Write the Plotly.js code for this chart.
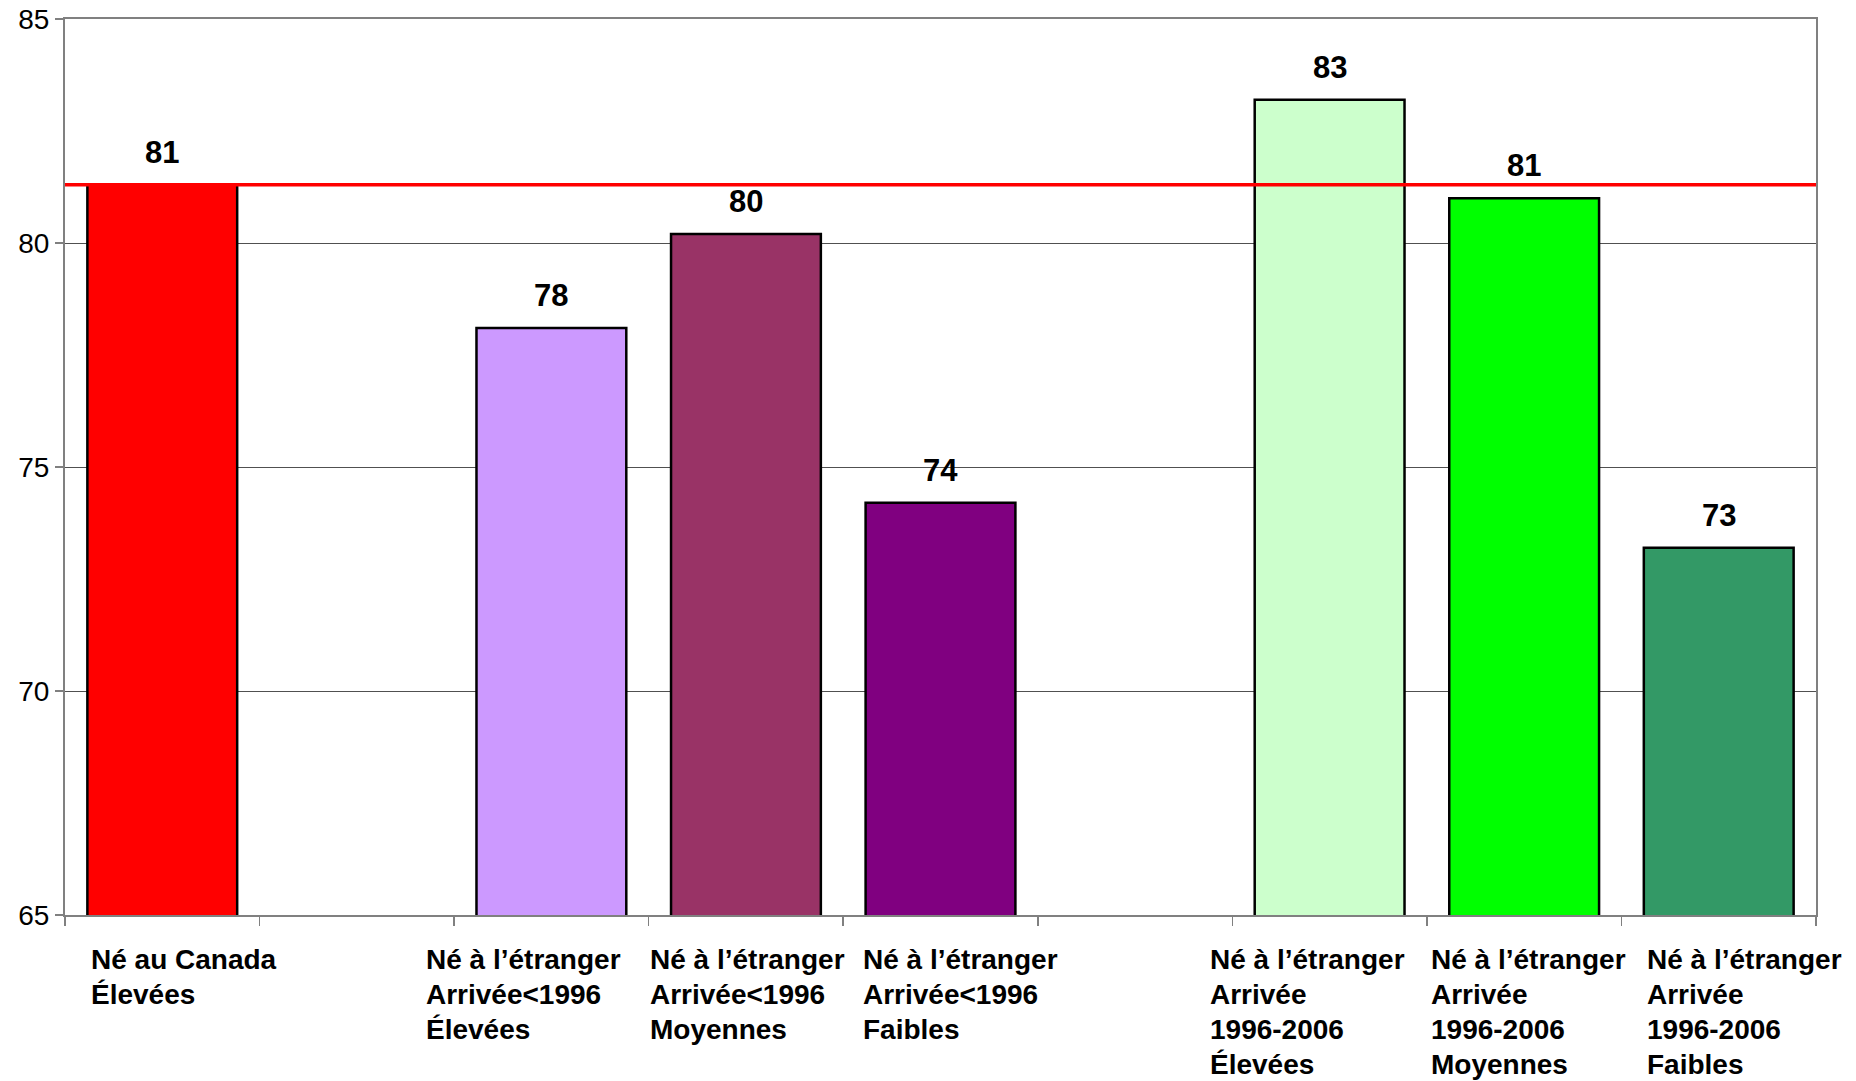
<!DOCTYPE html>
<html>
<head>
<meta charset="utf-8">
<script src="https://cdn.plot.ly/plotly-3.0.1.min.js"></script>
<style>html,body{margin:0;padding:0;background:#fff;}#chart{width:1856px;height:1081px;}</style>
</head>
<body>
<div id="chart"></div>
<script>
const categories = [
  'Né au Canada<br>Élevées',
  '',
  'Né à l’étranger<br>Arrivée&lt;1996<br>Élevées',
  'Né à l’étranger<br>Arrivée&lt;1996<br>Moyennes',
  'Né à l’étranger<br>Arrivée&lt;1996<br>Faibles',
  '',
  'Né à l’étranger<br>Arrivée<br>1996-2006<br>Élevées',
  'Né à l’étranger<br>Arrivée<br>1996-2006<br>Moyennes',
  'Né à l’étranger<br>Arrivée<br>1996-2006<br>Faibles'
];
const values = [81.3, null, 78.1, 80.2, 74.2, null, 83.2, 81.0, 73.2];
const referenceValue = 81.3;
const yTicks = [65, 70, 75, 80, 85];

const barColors = ['#FF0000', '#FFFFFF', '#CC99FF', '#993366', '#800080', '#FFFFFF', '#CCFFCC', '#00FF00', '#339966'];
const labelLeft = [-73, 0, -127, -98, -80, 0, -122, -95, -74];
const SLOT_PX = 1751 / 9;
const LINE_PITCH = 35.1;

const idx = categories.map((_, i) => i);
const FONT = 'Liberation Sans, Arial, sans-serif';

const annotations = [];
categories.forEach((c, i) => {
  if (c) {
    c.split('<br>').forEach((line, k) => {
      annotations.push({
        x: i, xref: 'x', y: 0, yref: 'paper', yanchor: 'middle', xanchor: 'left',
        yshift: -44 - k * LINE_PITCH, xshift: labelLeft[i], align: 'left', showarrow: false,
        text: line, font: {family: FONT, size: 28, weight: 'bold', color: '#000'}
      });
    });
  }
  if (values[i] !== null) {
    annotations.push({
      x: i, xref: 'x', y: values[i], yref: 'y', yanchor: 'bottom', xanchor: 'center',
      yshift: 13, showarrow: false, text: String(Math.round(values[i])),
      font: {family: FONT, size: 31, weight: 'bold', color: '#000'}
    });
  }
});

const trace = {
  type: 'bar', x: idx, y: values, width: 0.77,
  marker: {color: barColors, line: {color: '#000', width: 2.5}},
  hoverinfo: 'y', cliponaxis: true
};

const boundaries = idx.concat([idx.length]).map(k => k - 0.5);

const layout = {
  width: 1856, height: 1081,
  margin: {l: 65, r: 40, t: 19, b: 166},
  paper_bgcolor: '#fff', plot_bgcolor: '#fff',
  showlegend: false,
  font: {family: FONT, color: '#000'},
  xaxis: {
    range: [-0.5, 8.5], tickvals: boundaries, ticktext: boundaries.map(() => ''),
    ticks: 'outside', ticklen: 9, tickcolor: '#808080', tickwidth: 1.5,
    showgrid: false, zeroline: false, showline: true, linecolor: '#808080', linewidth: 2, mirror: true,
    fixedrange: true
  },
  yaxis: {
    range: [65, 85], tickvals: yTicks, ticktext: yTicks.map(String),
    ticks: 'outside', ticklen: 8, tickcolor: '#808080', tickwidth: 1.5,
    tickfont: {family: FONT, size: 28, color: '#000'},
    showgrid: true, gridcolor: '#505050', gridwidth: 1,
    zeroline: false, showline: true, linecolor: '#808080', linewidth: 2, mirror: true,
    fixedrange: true
  },
  shapes: [{
    type: 'line', xref: 'paper', x0: 0, x1: 1, yref: 'y', y0: referenceValue, y1: referenceValue,
    line: {color: '#FF0000', width: 3.5}, layer: 'above'
  }],
  annotations: annotations
};

Plotly.newPlot('chart', [trace], layout, {displayModeBar: false, staticPlot: true});
</script>
</body>
</html>
